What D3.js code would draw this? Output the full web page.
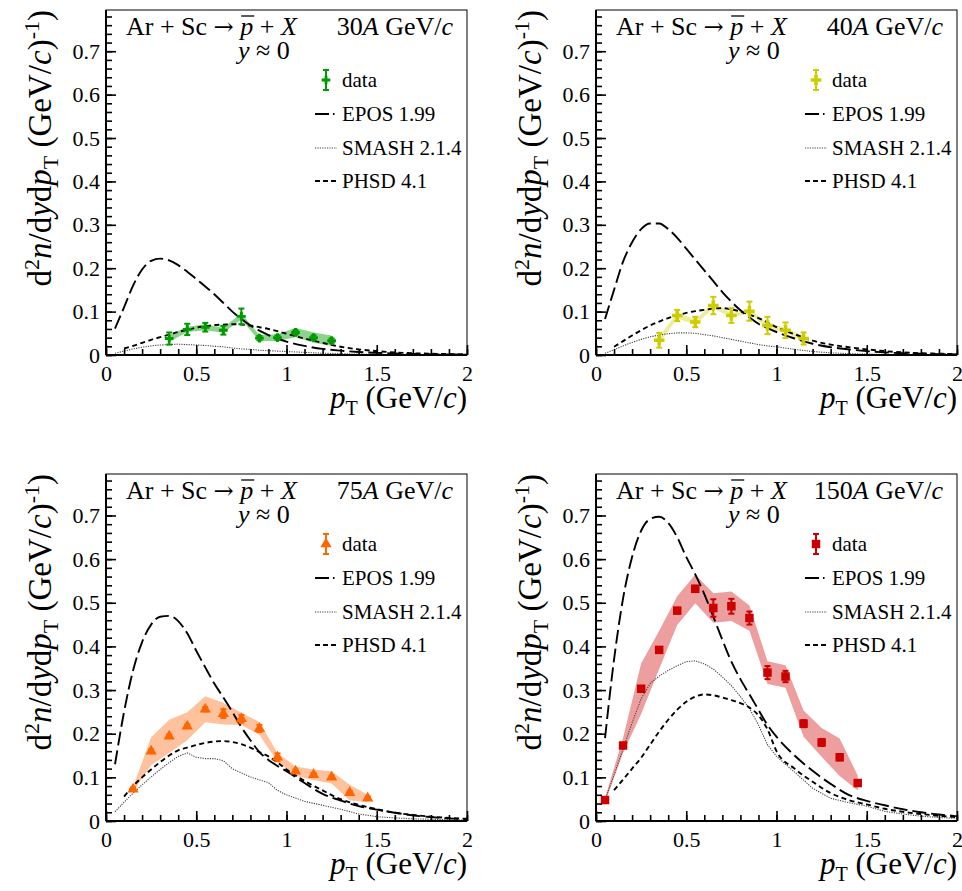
<!DOCTYPE html>
<html><head><meta charset="utf-8">
<script src="https://cdn.jsdelivr.net/npm/d3@7"></script>
<style>
body{margin:0;background:#fff}
text{font-family:"Liberation Serif","Times New Roman",serif;fill:#000}
</style>
</head><body>
<script>
// ---------------- DATA ----------------
const energies = ["30", "40", "75", "150"];
const legendLabels = ["data", "EPOS 1.99", "SMASH 2.1.4", "PHSD 4.1"];
const xTicks = [0, 0.5, 1, 1.5, 2];
const yTicks = [0, 0.1, 0.2, 0.3, 0.4, 0.5, 0.6, 0.7];

// model pT grid
const modelPt = [0.05,0.1,0.15,0.2,0.25,0.3,0.35,0.4,0.45,0.5,0.55,0.6,0.65,0.7,0.75,0.8,0.85,0.9,0.95,1.0,1.1,1.2,1.3,1.4,1.5,1.6,1.7,1.8,1.9,2.0];

const epos30  = [.061,.11,.16,.197,.217,.222,.218,.207,.192,.175,.158,.14,.12,.10,.083,.068,.056,.046,.038,.031,.021,.014,.010,.007,.005,.0035,.0025,.0018,.0012,.0009];
const smash30 = [.004,.009,.014,.018,.021,.023,.024,.025,.024,.023,.022,.020,.019,.016,.014,.013,.011,.010,.009,.008,.006,.004,.003,.002,.0015,.001,.0008,.0005,.0003,.0002];
const phsd30  = [null,.015,.021,.028,.035,.041,.047,.053,.058,.063,.066,.069,.070,.071,.070,.068,.064,.060,.055,.049,.038,.028,.019,.013,.009,.006,.004,.003,.002,.0015];

const epos40  = [.083,.15,.215,.26,.29,.303,.303,.29,.27,.245,.22,.195,.17,.145,.123,.103,.087,.072,.062,.053,.038,.026,.018,.013,.009,.006,.004,.003,.002,.0015];
const smash40 = [.004,.012,.021,.029,.036,.042,.046,.049,.051,.051,.050,.047,.044,.040,.036,.032,.028,.024,.021,.019,.013,.008,.005,.003,.002,.0015,.001,.0007,.0005,.0003];
const phsd40  = [null,.019,.032,.045,.057,.068,.077,.085,.091,.097,.101,.104,.107,.108,.105,.100,.093,.085,.075,.064,.048,.033,.024,.018,.013,.009,.006,.004,.003,.002];

const epos75  = [.13,.25,.345,.41,.45,.468,.47,.458,.43,.39,.352,.315,.283,.25,.215,.185,.158,.14,.126,.114,.087,.062,.047,.034,.026,.019,.013,.009,.006,.004];
const smash75 = [.021,.043,.064,.083,.101,.118,.134,.148,.156,.146,.143,.143,.138,.12,.11,.101,.094,.088,.07,.06,.045,.036,.027,.016,.01,.007,.005,.004,.003,.002];
const phsd75  = [null,.056,.08,.10,.118,.135,.15,.162,.168,.174,.179,.182,.183,.181,.176,.168,.158,.148,.134,.118,.092,.07,.05,.037,.027,.019,.014,.01,.007,.005];

const epos150  = [.19,.37,.51,.605,.665,.692,.697,.683,.65,.605,.565,.52,.468,.415,.365,.325,.29,.255,.22,.193,.15,.115,.085,.06,.046,.036,.027,.02,.015,.011];
const smash150 = [.048,.105,.165,.225,.28,.315,.332,.345,.356,.365,.367,.36,.348,.33,.31,.285,.258,.22,.175,.148,.112,.075,.052,.042,.034,.022,.016,.011,.008,.006];
const phsd150  = [null,.071,.095,.12,.145,.175,.205,.232,.255,.273,.285,.29,.288,.283,.277,.27,.26,.242,.21,.16,.12,.09,.064,.048,.038,.028,.021,.016,.012,.009];

// measured data
const dataPt30 = [0.35,0.45,0.55,0.65,0.75,0.85,0.95,1.05,1.15,1.25];
const data30   = [0.038,0.059,0.064,0.057,0.089,0.039,0.040,0.052,0.040,0.033];
const stat30   = [0.014,0.013,0.010,0.010,0.018,0.005,0.005,0.005,0.005,0.005];
const sys30    = [0.008,0.006,0.007,0.006,0.007,0.007,0.008,0.011,0.012,0.012];

const dataPt40 = [0.35,0.45,0.55,0.65,0.75,0.85,0.95,1.05,1.15];
const data40   = [0.034,0.091,0.076,0.114,0.091,0.101,0.068,0.057,0.038];
const stat40   = [0.017,0.013,0.012,0.020,0.017,0.022,0.020,0.018,0.014];
const sys40    = [0.008,0.007,0.006,0.006,0.005,0.005,0.006,0.006,0.005];

const dataPt75 = [0.15,0.25,0.35,0.45,0.55,0.65,0.75,0.85,0.95,1.05,1.15,1.25,1.35,1.45];
const data75   = [0.073,0.160,0.194,0.217,0.256,0.246,0.234,0.212,0.146,0.114,0.106,0.100,0.065,0.052];
const stat75   = [0.004,0.004,0.004,0.004,0.005,0.010,0.009,0.008,0.009,0.004,0.004,0.004,0.004,0.004];
const sys75    = [0.005,0.032,0.038,0.032,0.030,0.025,0.014,0.015,0.010,0.011,0.012,0.014,0.018,0.008];

const dataPt150 = [0.05,0.15,0.25,0.35,0.45,0.55,0.65,0.75,0.85,0.95,1.05,1.15,1.25,1.35,1.45];
const data150   = [0.048,0.173,0.303,0.392,0.482,0.532,0.488,0.492,0.465,0.340,0.331,0.223,0.180,0.146,0.087];
const stat150   = [0.006,0.006,0.006,0.006,0.006,0.007,0.020,0.017,0.015,0.015,0.013,0.008,0.008,0.007,0.006];
const sys150    = [0.005,0.017,0.058,0.044,0.033,0.033,0.034,0.034,0.029,0.026,0.026,0.030,0.033,0.043,0.017];

// ---------------- LAYOUT ----------------
const W = 962, H = 891;
const FONT = '"Liberation Serif","Times New Roman",serif';
const panels = [
  {x0:106, x1:467, yt:10,  yb:355, energy:energies[0], pt:dataPt30,  val:data30,  stat:stat30,  sys:sys30,  epos:epos30,  smash:smash30,  phsd:phsd30,  color:"#009900", band:"rgba(0,160,0,0.45)",   marker:d3.symbolCross,    msize:42},
  {x0:596, x1:957, yt:10,  yb:355, energy:energies[1], pt:dataPt40,  val:data40,  stat:stat40,  sys:sys40,  epos:epos40,  smash:smash40,  phsd:phsd40,  color:"#cccc00", band:"rgba(215,215,40,0.45)", marker:d3.symbolCross,    msize:62},
  {x0:106, x1:467, yt:474, yb:821, energy:energies[2], pt:dataPt75,  val:data75,  stat:stat75,  sys:sys75,  epos:epos75,  smash:smash75,  phsd:phsd75,  color:"#ff6600", band:"rgba(255,120,40,0.45)", marker:d3.symbolTriangle, msize:55},
  {x0:596, x1:957, yt:474, yb:821, energy:energies[3], pt:dataPt150, val:data150, stat:stat150, sys:sys150, epos:epos150, smash:smash150, phsd:phsd150, color:"#cc0000", band:"rgba(215,40,40,0.45)",  marker:d3.symbolSquare,   msize:72}
];

const svg = d3.select("body").append("svg").attr("width", W).attr("height", H)
  .style("font-family", FONT);

const styles = {
  epos:  {w:1.9, dash:"14,5",  color:"#000"},
  smash: {w:1.1, dash:"1.2,1.2", color:"#444"},
  phsd:  {w:1.9, dash:"5,3.5", color:"#000"}
};

panels.forEach((p, pi) => {
  const g = svg.append("g");
  const x = d3.scaleLinear().domain([0, 2]).range([p.x0, p.x1]);
  const y = d3.scaleLinear().domain([0, 0.795]).range([p.yb, p.yt]);

  const clipId = "clip" + pi;
  g.append("clipPath").attr("id", clipId).append("rect")
    .attr("x", p.x0).attr("y", p.yt).attr("width", p.x1 - p.x0).attr("height", p.yb - p.yt);

  const plot = g.append("g").attr("clip-path", `url(#${clipId})`);

  // systematic band
  const bandData = p.pt.map((d, i) => ({x: d, y: p.val[i], s: p.sys[i]}));
  plot.append("path").datum(bandData)
    .attr("d", d3.area().x(d => x(d.x)).y0(d => y(d.y - d.s)).y1(d => y(d.y + d.s)))
    .attr("fill", p.band).attr("stroke", "none");

  // models
  [["smash", d3.curveLinear], ["phsd", d3.curveMonotoneX], ["epos", d3.curveMonotoneX]].forEach(([k, curve]) => {
    const st = styles[k];
    const pts = modelPt.map((d, i) => ({x: d, y: p[k][i]}));
    plot.append("path").datum(pts)
      .attr("d", d3.line().defined(d => d.y != null).x(d => x(d.x)).y(d => y(d.y)).curve(curve))
      .attr("fill", "none").attr("stroke", st.color).attr("stroke-width", st.w)
      .attr("stroke-dasharray", st.dash);
  });

  // stat error bars
  const cap = 3;
  bandData.forEach((d, i) => {
    const e = p.stat[i];
    const cx = x(d.x);
    const y1 = y(d.y + e), y2 = y(d.y - e);
    plot.append("line").attr("x1", cx).attr("x2", cx).attr("y1", y1).attr("y2", y2)
      .attr("stroke", p.color).attr("stroke-width", 2);
    [y1, y2].forEach(yy => plot.append("line").attr("x1", cx - cap).attr("x2", cx + cap)
      .attr("y1", yy).attr("y2", yy).attr("stroke", p.color).attr("stroke-width", 2));
  });
  // markers
  plot.selectAll("path.mk").data(bandData).enter().append("path").attr("class", "mk")
    .attr("transform", d => `translate(${x(d.x)},${y(d.y)})`)
    .attr("d", d3.symbol().type(p.marker).size(p.msize))
    .attr("fill", p.color);

  // axes
  const xAxisMajor = d3.axisBottom(x).tickValues(xTicks).tickSize(-10).tickSizeOuter(0)
    .tickPadding(10).tickFormat(d3.format("~g"));
  const xAxisMinor = d3.axisBottom(x).tickValues(d3.range(0, 2.001, 0.1)).tickSize(-6).tickSizeOuter(0).tickFormat("");
  const yAxisMajor = d3.axisLeft(y).tickValues(yTicks).tickSize(-10).tickSizeOuter(0)
    .tickPadding(6).tickFormat(d3.format("~g"));
  const yAxisMinor = d3.axisLeft(y).tickValues(d3.range(0, 0.7901, 0.02)).tickSize(-6).tickSizeOuter(0).tickFormat("");

  [xAxisMinor, xAxisMajor].forEach(ax => {
    const a = g.append("g").attr("transform", `translate(0,${p.yb})`).call(ax);
    a.select(".domain").remove();
    a.selectAll("line").attr("stroke", "#000").attr("stroke-width", 1.6);
    a.selectAll("text").attr("font-size", 22).attr("font-family", FONT).attr("fill", "#000");
  });
  [yAxisMinor, yAxisMajor].forEach(ax => {
    const a = g.append("g").attr("transform", `translate(${p.x0},0)`).call(ax);
    a.select(".domain").remove();
    a.selectAll("line").attr("stroke", "#000").attr("stroke-width", 1.6);
    a.selectAll("text").attr("font-size", 22).attr("font-family", FONT).attr("fill", "#000");
  });

  // frame
  g.append("rect").attr("x", p.x0).attr("y", p.yt).attr("width", p.x1 - p.x0).attr("height", p.yb - p.yt)
    .attr("fill", "none").attr("stroke", "#000").attr("stroke-width", 1);
  g.append("line").attr("x1", p.x0).attr("x2", p.x1).attr("y1", p.yb).attr("y2", p.yb).attr("stroke", "#000").attr("stroke-width", 2);
  g.append("line").attr("x1", p.x0).attr("x2", p.x0).attr("y1", p.yt).attr("y2", p.yb).attr("stroke", "#000").attr("stroke-width", 2);

  // x title
  const xt = g.append("text").attr("x", p.x1).attr("y", p.yb + 53).attr("text-anchor", "end").attr("font-size", 31);
  xt.append("tspan").attr("font-style", "italic").text("p");
  xt.append("tspan").attr("font-size", 20).attr("dy", 7).text("T");
  xt.append("tspan").attr("dy", -7).text(" (GeV/");
  xt.append("tspan").attr("font-style", "italic").text("c");
  xt.append("tspan").text(")");

  // y title
  const yt = g.append("text").attr("transform", `translate(${p.x0 - 55},${p.yt}) rotate(-90)`)
    .attr("text-anchor", "end").attr("font-size", 33);
  yt.append("tspan").text("d");
  yt.append("tspan").attr("font-size", 22).attr("dy", -12).text("2");
  yt.append("tspan").attr("dy", 12).attr("font-style", "italic").text("n");
  yt.append("tspan").text("/d");
  yt.append("tspan").attr("font-style", "italic").text("y");
  yt.append("tspan").text("d");
  yt.append("tspan").attr("font-style", "italic").text("p");
  yt.append("tspan").attr("font-size", 22).attr("dy", 7).text("T");
  yt.append("tspan").attr("dy", -7).text(" (GeV/");
  yt.append("tspan").attr("font-style", "italic").text("c");
  yt.append("tspan").text(")");
  yt.append("tspan").attr("font-size", 22).attr("dy", -12).text("-1");
  yt.append("tspan").attr("dy", 12).text(")");

  // header
  const ht = g.append("text").attr("x", p.x0 + 20).attr("y", p.yt + 25).attr("font-size", 26);
  ht.append("tspan").text("Ar + Sc ");
  ht.append("tspan").attr("font-family", '"DejaVu Serif",serif').attr("font-size", 24).text("\u2192");
  ht.append("tspan").text(" ");
  ht.append("tspan").attr("font-style", "italic").text("p");
  ht.append("tspan").text(" + ");
  ht.append("tspan").attr("font-style", "italic").text("X");
  const node = ht.node();
  const idx = "Ar + Sc \u2192 ".length;
  const s0 = node.getStartPositionOfChar(idx), s1 = node.getEndPositionOfChar(idx);
  g.append("line").attr("x1", s0.x + 1).attr("x2", s1.x + 1).attr("y1", p.yt + 6).attr("y2", p.yt + 6)
    .attr("stroke", "#000").attr("stroke-width", 1.3);

  const et = g.append("text").attr("x", p.x0 + 347).attr("y", p.yt + 25).attr("font-size", 26).attr("text-anchor", "end");
  et.append("tspan").text(p.energy);
  et.append("tspan").attr("font-style", "italic").text("A");
  et.append("tspan").text(" GeV/");
  et.append("tspan").attr("font-style", "italic").text("c");

  const yy = g.append("text").attr("x", p.x0 + 132).attr("y", p.yt + 49).attr("font-size", 26);
  yy.append("tspan").attr("font-style", "italic").text("y");
  yy.append("tspan").text(" \u2248 0");

  // legend
  const lx = p.x0 + 209, tx = p.x0 + 236;
  const rows = [p.yt + 77, p.yt + 111, p.yt + 145, p.yt + 178];
  legendLabels.forEach((lab, i) => {
    g.append("text").attr("x", tx).attr("y", rows[i]).attr("font-size", 21).text(lab);
  });
  // data entry
  const mx = p.x0 + 220, my = rows[0] - 7;
  g.append("line").attr("x1", mx).attr("x2", mx).attr("y1", my - 10).attr("y2", my + 10).attr("stroke", p.color).attr("stroke-width", 2);
  [my - 10, my + 10].forEach(v => g.append("line").attr("x1", mx - 3).attr("x2", mx + 3).attr("y1", v).attr("y2", v).attr("stroke", p.color).attr("stroke-width", 2));
  g.append("path").attr("transform", `translate(${mx},${my})`).attr("d", d3.symbol().type(p.marker).size(p.msize)).attr("fill", p.color);
  // model entries
  [["epos", "14,4,1.5,10"], ["smash", styles.smash.dash], ["phsd", "5,3"]].forEach(([k, dash], i) => {
    const st = styles[k];
    g.append("line").attr("x1", lx).attr("x2", lx + 22).attr("y1", rows[i + 1] - 7).attr("y2", rows[i + 1] - 7)
      .attr("stroke", st.color).attr("stroke-width", st.w).attr("stroke-dasharray", dash);
  });
});
</script>
</body></html>
